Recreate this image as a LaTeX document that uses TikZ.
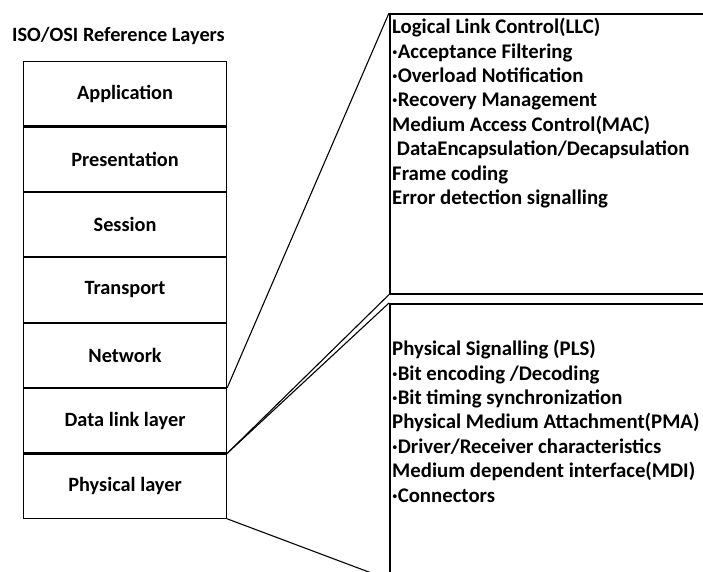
\documentclass[tikz,border=0pt]{standalone}
\usepackage{fontspec}
\setmainfont{Carlito}
\usetikzlibrary{positioning}

\begin{document}
\begin{tikzpicture}[
    x=1pt, y=-1pt,
    layer/.style={draw, line width=1.1pt, minimum width=203pt, minimum height=64.3pt, inner sep=0pt, font=\fontsize{20.3}{24}\selectfont\bfseries},
    zoombox/.style={draw, line width=1.6pt, anchor=north west, minimum width=340pt, inner sep=0pt},
    boxtext/.style={anchor=north west, inner sep=0pt, align=left, font=\fontsize{20.8}{24.4}\selectfont\bfseries},
    link/.style={line width=1.1pt}
]
\useasboundingbox (0,0) rectangle (703,571);
\clip (0,0) rectangle (703,571);

% Title
\node[anchor=base west, inner sep=0pt, font=\fontsize{20.3}{24}\selectfont\bfseries] (title) at (12,41) {ISO/OSI Reference Layers};

% OSI layers (top = application)
\node[layer, anchor=north west] (app) at (23,61) {Application};
\node[layer, below=0pt of app] (pres) {Presentation};
\node[layer, below=0pt of pres] (sess) {Session};
\node[layer, below=0pt of sess] (trans) {Transport};
\node[layer, below=0pt of trans] (net) {Network};
\node[layer, below=0pt of net] (dll) {Data link layer};
\node[layer, below=0pt of dll] (phy) {Physical layer};

% Detail boxes (cut off at the right edge)
\node[zoombox, minimum height=280pt] (llcbox) at (389,13) {};
\node[zoombox, minimum height=275pt] (plsbox) at (389,303) {};

\node[boxtext] (llctext) at (392,18) {Logical Link Control(LLC)\\
  ·Acceptance Filtering\\
  ·Overload Notification\\
  ·Recovery Management\\
  Medium Access Control(MAC)\\
  \ DataEncapsulation/Decapsulation\\
  Frame coding\\
  Error detection signalling};
\node[boxtext] (plstext) at (392,340) {Physical Signalling (PLS)\\
  ·Bit encoding /Decoding\\
  ·Bit timing synchronization\\
  Physical Medium Attachment(PMA)\\
  ·Driver/Receiver characteristics\\
  Medium dependent interface(MDI)\\
  ·Connectors};

% Zoom lines
\draw[link] (net.south east) -- (llcbox.north west);
\draw[link] (dll.south east) -- (llcbox.south west);
\draw[link] (dll.south east) -- (plsbox.north west);
\draw[link] (phy.south east) -- (plsbox.south west);
\end{tikzpicture}
\end{document}
